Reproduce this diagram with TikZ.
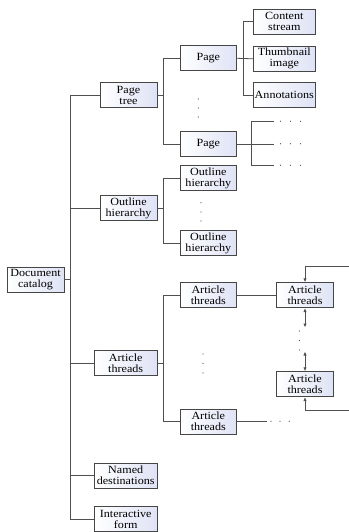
\documentclass[tikz,border=0pt]{standalone}
\usepackage{fontspec}
\setmainfont{Liberation Serif}[FakeStretch=1.1]
\usetikzlibrary{arrows.meta}
\definecolor{boxedge}{RGB}{70,70,70}
\definecolor{wire}{RGB}{80,80,80}
\definecolor{boxtint}{RGB}{222,227,245}
\begin{document}
\begin{tikzpicture}[x=1pt,y=-1pt,
  box/.style={draw=boxedge,line width=0.8pt,left color=white,right color=boxtint,
    minimum height=25pt,inner sep=0pt,align=center,
    font=\fontsize{11}{11}\selectfont},
  wA/.style={box,minimum width=57pt},
  wB/.style={box,minimum width=63pt},
  wC/.style={box,minimum width=56.7pt},
  wD/.style={box,minimum width=62pt},
  link/.style={draw=wire,line width=0.8pt},
  tip/.style={link,arrows={-Latex[length=4pt,width=3.4pt]}},
  bothtips/.style={link,arrows={Latex[length=4pt,width=3.4pt]-Latex[length=4pt,width=3.4pt]}},
  dot/.style={fill=black!70,draw=none}]
\useasboundingbox (0,0) rectangle (348,532);

% root
\node[wA] (doc) at (35.5,279.5) {Document\\catalog};

% first level
\node[wA] (pagetree) at (128.5,95.2) {Page\\tree};
\node[wA] (outline) at (128.5,208) {Outline\\hierarchy};
\node[wB] (article) at (125.7,363) {Article\\threads};
\node[wB] (named) at (125.7,475.5) {Named\\destinations};
\node[wB] (interactive) at (125.7,519.2) {Interactive\\form};

% second level
\node[wC] (page1) at (208.3,58.3) {Page};
\node[wC] (page2) at (208.3,144.2) {Page};
\node[wC] (out1) at (208.3,178) {Outline\\hierarchy};
\node[wC] (out2) at (208.3,243.3) {Outline\\hierarchy};
\node[wC] (artA) at (208.3,295.2) {Article\\threads};
\node[wC] (artB) at (208.3,421.7) {Article\\threads};

% page contents
\node[wD] (content) at (284.3,21.7) {Content\\stream};
\node[wD] (thumb) at (284.3,58.8) {Thumbnail\\image};
\node[wD] (annot) at (284.3,95.2) {Annotations};

% thread beads
\node[wC] (artC) at (305,295.2) {Article\\threads};
\node[wC] (artD) at (305,384.2) {Article\\threads};

% bus lines
\coordinate (trunk) at (70,0);
\coordinate (busB) at (163.3,0);
\coordinate (busC) at (243.3,0);
\coordinate (busD) at (251.7,0);

% root to first level
\draw[link] (doc.east) -- (doc.east -| trunk);
\draw[link] (pagetree.west) -- (pagetree.west -| trunk) -- (interactive.west -| trunk) -- (interactive.west);
\draw[link] (outline.west) -- (outline.west -| trunk);
\draw[link] (article.west) -- (article.west -| trunk);
\draw[link] (named.west) -- (named.west -| trunk);

% first level to second level
\draw[link] (pagetree.east) -- (pagetree.east -| busB);
\draw[link] (page1.west) -- (page1.west -| busB) -- (page2.west -| busB) -- (page2.west);
\draw[link] (outline.east) -- (outline.east -| busB);
\draw[link] (out1.west) -- (out1.west -| busB) -- (out2.west -| busB) -- (out2.west);
\draw[link] (article.east) -- (article.east -| busB);
\draw[link] (artA.west) -- (artA.west -| busB) -- (artB.west -| busB) -- (artB.west);

% page to its contents
\draw[link] (page1.east) -- (thumb.west);
\draw[link] (content.west) -- (content.west -| busC) -- (annot.west -| busC) -- (annot.west);

% second page, contents elided
\coordinate (pe1) at (274,121.7);
\coordinate (pe2) at (274,144.2);
\coordinate (pe3) at (274,165.7);
\draw[link] (page2.east) -- (page2.east -| busD);
\draw[link] (pe1) -- (pe1 -| busD) -- (pe3 -| busD) -- (pe3);
\draw[link] (pe2 -| busD) -- (pe2);
\foreach \yy in {121.2,143.7,165.2}
  \foreach \xx in {280.5,290.5,300.5}
    \fill[dot] (\xx,\yy) circle (0.6);

% thread chain
\draw[link] (artA.east) -- (artC.west);
\coordinate (tin) at (349,266.5);
\coordinate (tout) at (349,410.5);
\coordinate (cup) at (305,327.5);
\coordinate (clo) at (305,351.5);
\draw[tip] (tin) -| (artC.north);
\draw[tip] (tout) -| (artD.south);
\draw[bothtips] (artC.south) -- (cup);
\draw[bothtips] (clo) -- (artD.north);
\foreach \yy in {331,340.5,350}
  \fill[dot] (299.5,\yy) circle (0.6);

% last thread, continuation elided
\coordinate (be) at (266.7,421.7);
\draw[link] (artB.east) -- (be);
\foreach \xx in {271,280,289.3}
  \fill[dot] (\xx,421.2) circle (0.6);

% vertical ellipses between siblings
\foreach \yy in {99,108,117}
  \fill[dot] (198.3,\yy) circle (0.6);
\foreach \yy in {202.7,212,221}
  \fill[dot] (201,\yy) circle (0.6);
\foreach \yy in {354,363.5,373}
  \fill[dot] (203,\yy) circle (0.6);
\end{tikzpicture}
\end{document}
